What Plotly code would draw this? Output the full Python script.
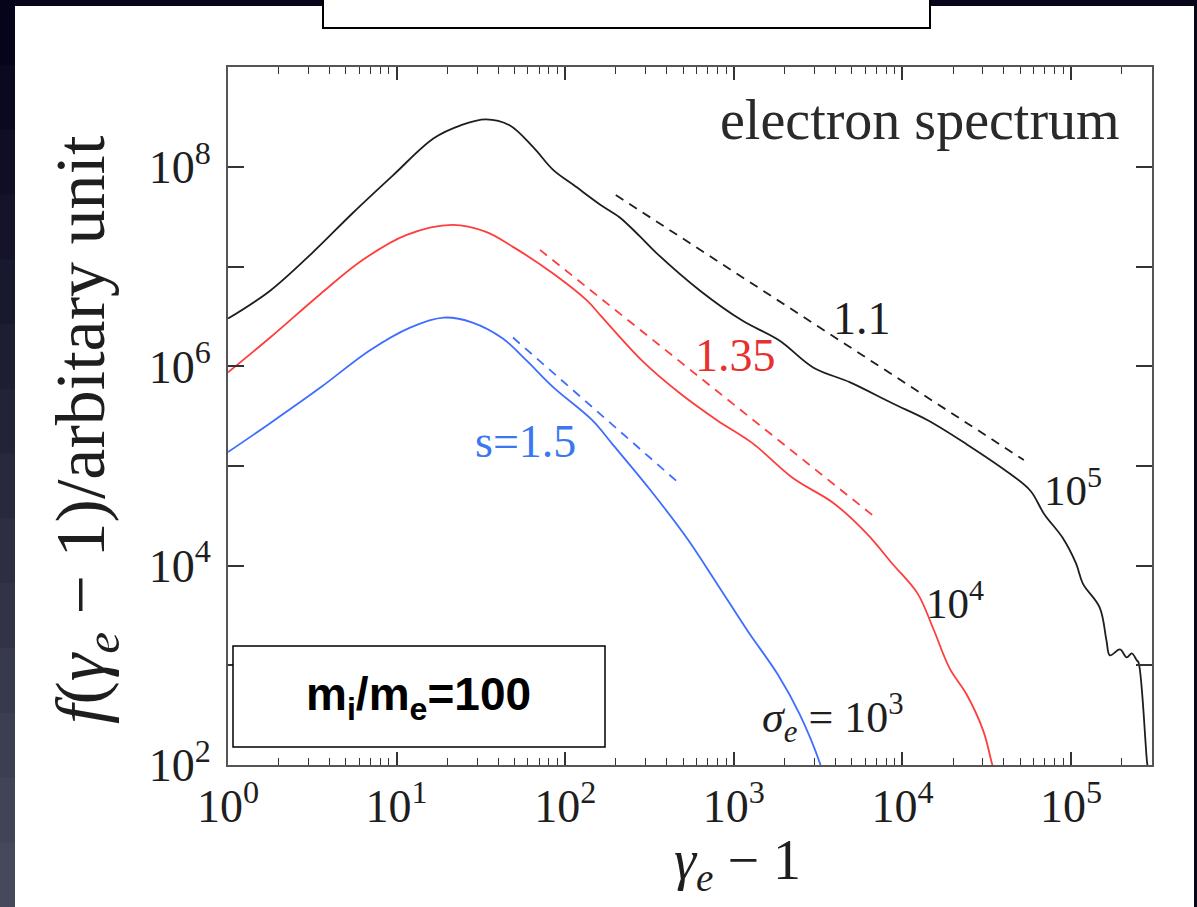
import numpy as np
import plotly.graph_objects as go

# ---------------- data (log10 values) ----------------
black_logx = [0.00, 0.25, 0.50, 0.74, 0.98, 1.22, 1.38, 1.53, 1.67, 1.81, 1.93, 2.05,
              2.21, 2.32, 2.44, 2.54, 2.80, 3.05, 3.27, 3.47, 3.69, 3.94, 4.15, 4.38,
              4.64, 4.76, 4.84, 4.95, 5.03, 5.07, 5.17, 5.21, 5.23, 5.29, 5.33, 5.36,
              5.39, 5.40, 5.45, 5.46]
black_logy = [6.48, 6.76, 7.14, 7.54, 7.92, 8.29, 8.42, 8.48, 8.42, 8.20, 7.97, 7.82,
              7.62, 7.50, 7.31, 7.14, 6.76, 6.46, 6.26, 5.99, 5.84, 5.63, 5.46, 5.22,
              4.92, 4.75, 4.52, 4.28, 4.02, 3.82, 3.58, 3.25, 3.10, 3.16, 3.08, 3.12,
              3.05, 3.03, 2.04, 1.90]

red_logx = [0.00, 0.25, 0.55, 0.80, 1.06, 1.33, 1.53, 1.69, 1.93, 2.13, 2.21, 2.46,
            2.68, 2.90, 3.11, 3.35, 3.59, 3.79, 3.94, 4.09, 4.18, 4.28, 4.38, 4.48,
            4.53, 4.55]
red_logy = [5.94, 6.29, 6.73, 7.07, 7.32, 7.42, 7.35, 7.20, 6.93, 6.66, 6.51, 6.05,
            5.73, 5.46, 5.23, 4.88, 4.63, 4.32, 4.02, 3.72, 3.38, 2.97, 2.71, 2.34,
            2.02, 1.90]

blue_logx = [0.00, 0.25, 0.55, 0.84, 1.08, 1.28, 1.45, 1.63, 1.77, 1.93, 2.16, 2.28,
             2.50, 2.72, 2.90, 3.08, 3.26, 3.39, 3.51, 3.53]
blue_logy = [5.14, 5.43, 5.79, 6.16, 6.39, 6.49, 6.44, 6.28, 6.06, 5.79, 5.46, 5.22,
             4.77, 4.28, 3.82, 3.35, 2.91, 2.51, 2.02, 1.90]

# power-law guide lines (end points)
guide_black_logx = [2.30, 4.72]
guide_black_logy = [7.72, 5.06]
guide_red_logx = [1.85, 3.85]
guide_red_logy = [7.17, 4.47]
guide_blue_logx = [1.69, 2.66]
guide_blue_logy = [6.29, 4.85]

x_major = [1, 10, 100, 1000, 10000, 100000]
x_major_text = ["10<sup>0</sup>", "10<sup>1</sup>", "10<sup>2</sup>",
                "10<sup>3</sup>", "10<sup>4</sup>", "10<sup>5</sup>"]
x_minor = [m * d for d in [1, 10, 100, 1000, 10000, 100000] for m in range(2, 10)]
y_major = [1e2, 1e4, 1e6, 1e8]
y_major_text = ["10<sup>2</sup>", "10<sup>4</sup>", "10<sup>6</sup>", "10<sup>8</sup>"]
y_minor = [1e3, 1e5, 1e7, 1e9]

# ---------------- layout geometry ----------------
W, H = 1197, 907
L, R, T, B = 228, 1152, 67, 765
XR = [0, 5.48]
YR = [2, 9.005]


def px(x):
    return (x - L) / (R - L)


def py(y):
    return (B - y) / (B - T)


def tolin(a):
    return [10 ** v for v in a]


BLACK = "#1e1e1e"
RED = "#ff3d3d"
BLUE = "#3f6dff"
SERIF = "Liberation Serif"

fig = go.Figure()

# hidden label fragment under the box
fig.add_trace(go.Scatter(x=[10 ** 2.19], y=[10 ** 2.36], mode="text", text=["e"],
                         textfont=dict(family=SERIF, size=34, color="#9a9a9a"),
                         showlegend=False, hoverinfo="skip"))

for lx, ly, col in [(black_logx, black_logy, BLACK), (red_logx, red_logy, RED),
                    (blue_logx, blue_logy, BLUE)]:
    fig.add_trace(go.Scatter(x=tolin(lx), y=tolin(ly), mode="lines",
                             line=dict(color=col, width=1.8, shape="spline", smoothing=1.0),
                             showlegend=False, hoverinfo="skip"))

for lx, ly, col in [(guide_black_logx, guide_black_logy, BLACK),
                    (guide_red_logx, guide_red_logy, RED),
                    (guide_blue_logx, guide_blue_logy, BLUE)]:
    fig.add_trace(go.Scatter(x=tolin(lx), y=tolin(ly), mode="lines",
                             line=dict(color=col, width=1.8, dash="9px,7px"),
                             showlegend=False, hoverinfo="skip"))

# invisible trace carrying the minor-tick axes
fig.add_trace(go.Scatter(x=[10], y=[1e5], xaxis="x2", yaxis="y2", mode="markers",
                         marker=dict(opacity=0), showlegend=False, hoverinfo="skip"))

shapes = []
# white panel
shapes.append(dict(type="rect", xref="paper", yref="paper", layer="below",
                   x0=px(15), x1=px(1194), y0=py(910), y1=py(6),
                   fillcolor="white", line=dict(width=0)))
# dark gradient strip on left
n = 14
c0 = np.array([6, 4, 26])
c1 = np.array([70, 73, 92])
for i in range(n):
    c = c0 + (c1 - c0) * (i / (n - 1))
    shapes.append(dict(type="rect", xref="paper", yref="paper", layer="below",
                       x0=px(-2), x1=px(15), y0=py(H * (i + 1) / n + 1), y1=py(H * i / n),
                       fillcolor="rgb(%d,%d,%d)" % tuple(c.astype(int)), line=dict(width=0)))
# title box (top, cut off)
shapes.append(dict(type="rect", xref="paper", yref="paper", layer="above",
                   x0=px(323), x1=px(930), y0=py(28), y1=py(-20),
                   fillcolor="white", line=dict(color="black", width=2)))
# m_i/m_e box
shapes.append(dict(type="rect", xref="paper", yref="paper", layer="above",
                   x0=px(233), x1=px(605), y0=py(747), y1=py(646),
                   fillcolor="white", line=dict(color="black", width=1.5)))

ann = []


def add_text(text, x, y, size, color=BLACK, xanchor="center", yanchor="middle",
             family=SERIF, angle=0):
    ann.append(dict(text=text, x=px(x), y=py(y), xref="paper", yref="paper",
                    showarrow=False, xanchor=xanchor, yanchor=yanchor, textangle=angle,
                    font=dict(family=family, size=size, color=color)))


add_text("electron spectrum", 1122, 120, 56, color="#2a2a2a", xanchor="right")
add_text("1.1", 862, 318, 46)
add_text("1.35", 735, 356, 46, color="#e8302f")
add_text("s=1.5", 525, 442, 46, color="#3a78f0")
add_text("10<sup>5</sup>", 1073, 487, 43)
add_text("10<sup>4</sup>", 955, 600, 43)
add_text("<i>σ<sub>e</sub></i> = 10<sup>3</sup>", 833, 718, 44)
add_text("<i>f</i>(<i>γ<sub>e</sub></i> − 1)/arbitary unit", 86, 430, 70, angle=-90)
add_text("<i>γ<sub>e</sub></i>&nbsp;− 1", 737, 864, 56)
add_text("<b>m<sub>i</sub>/m<sub>e</sub>=100</b>", 418, 697, 46, color="black",
         family="Liberation Sans")

axis_common = dict(type="log", showgrid=False, zeroline=False, showline=True,
                   linecolor="#555555", linewidth=2, mirror="ticks", ticks="inside",
                   tickcolor="#333333", tickwidth=1.5,
                   tickfont=dict(family=SERIF, size=46, color=BLACK))

fig.update_layout(
    width=W, height=H,
    margin=dict(l=L, r=W - R, t=T, b=H - B, pad=0),
    paper_bgcolor="#08061a", plot_bgcolor="white",
    showlegend=False,
    xaxis=dict(axis_common, range=XR, tickmode="array", tickvals=x_major,
               ticktext=x_major_text, ticklen=13),
    xaxis2=dict(type="log", overlaying="x", anchor="y", side="bottom", range=XR,
                tickmode="array", tickvals=x_minor,
                ticks="inside", ticklen=7, tickwidth=1.3, tickcolor="#333333",
                mirror="ticks", showline=False, showgrid=False, zeroline=False,
                showticklabels=False),
    yaxis=dict(axis_common, range=YR, tickmode="array", tickvals=y_major,
               ticktext=y_major_text, ticklen=16, ticklabelstandoff=6),
    yaxis2=dict(type="log", overlaying="y", anchor="x", side="left", range=YR,
                tickmode="array", tickvals=y_minor,
                ticks="inside", ticklen=16, tickwidth=1.5, tickcolor="#333333",
                mirror="ticks", showline=False, showgrid=False, zeroline=False,
                showticklabels=False),
    shapes=shapes, annotations=ann,
)

fig.write_html("out.html")
